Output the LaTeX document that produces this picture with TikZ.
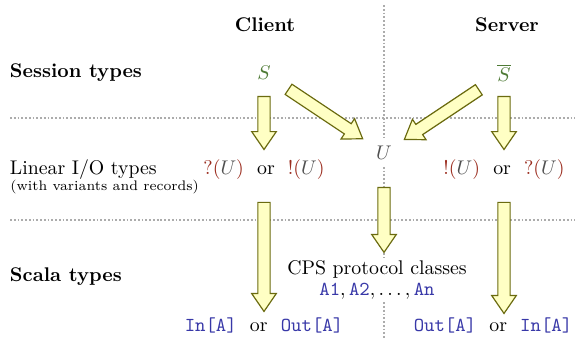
\documentclass[tikz,border=0pt]{standalone}
\usepackage{amsmath}
\usepackage{tikz}
\usetikzlibrary{shapes.arrows,calc}
\definecolor{sesscol}{HTML}{4E7A35}
\definecolor{iocol}{HTML}{9B2D1F}
\definecolor{ucol}{HTML}{505050}
\definecolor{scalacol}{HTML}{3838A8}
\definecolor{arrowfill}{HTML}{FFFFC4}
\definecolor{arrowline}{HTML}{6B6B10}
\tikzset{%
  % Specifications for style of nodes:
       fatarrow/.style = {single arrow, draw=arrowline, fill=arrowfill,
                          line width=0.6pt, inner xsep=0pt, inner ysep=2.8pt,
                          single arrow head extend=3.1pt,
                          single arrow tip angle=69, outer sep=0pt},
        rowhead/.style = {anchor=west, font=\bfseries},
         sepline/.style = {gray!65, densely dotted, line width=0.9pt}
                          }
\newcommand{\sess}[1]{\textcolor{sesscol}{#1}}
\newcommand{\io}[1]{\textcolor{iocol}{#1}}
\newcommand{\uu}{\textcolor{ucol}{U}}
\newcommand{\scl}[1]{\textcolor{scalacol}{\texttt{#1}}}
% fat arrow between two nodes, shortened at both ends
\newcommand{\bigarrow}[4]{%
  \path let \p1 = ($(#1)!#3!(#2)$), \p2 = ($(#2)!#4!(#1)$),
            \p3 = ($(\p2)-(\p1)$), \n1 = {atan2(\y3,\x3)}, \n2 = {veclen(\x3,\y3)}
        in node[fatarrow, minimum height=\n2, rotate=\n1] at ($(\p1)!0.5!(\p2)$) {};}

\begin{document}
\begin{tikzpicture}[x=0.505pt, y=-0.505pt]
    \useasboundingbox (0,0) rectangle (575,338);

    % separators
    \draw[sepline] (10,118) -- (575,118);
    \draw[sepline] (10,220) -- (575,220);
    \draw[sepline] (384,5)  -- (384,338);

    % columns
    \node (client) [font=\bfseries] at (265,25) {Client};
    \node (server) [font=\bfseries] at (507,25) {Server};

    % rows
    \node (sess)      [rowhead] at (3,73)  {Session types};
    \node (linio)     [anchor=west] at (3,170) {Linear I/O types};
    \node (linionote) [anchor=west, font=\scriptsize, inner sep=1pt] at (8,187) {(with variants and records)};
    \node (scala)     [rowhead] at (3,277) {Scala types};

    \node (S)    at (264,73) {$\sess{S}$};
    \node (Sbar) at (504,73) {$\sess{\overline{S}}$};

    \node (cio) at (264,170) {$\io{?(}\uu\io{)}$\ \ or\ \ $\io{!(}\uu\io{)}$};
    \node (sio) at (504,170) {$\io{!(}\uu\io{)}$\ \ or\ \ $\io{?(}\uu\io{)}$};
    \node (U) [fill=white] at (384,153) {$\uu$};

    \node (cps) [fill=white, align=center, inner sep=1pt] at (377,280)
          {CPS protocol classes\\[-1pt] $\scl{A1}, \scl{A2}, \ldots, \scl{An}$};
    \coordinate (cpstop) at (U |- cps.north);
    \node (cscala) [fill=white, inner sep=1pt] at (264,325) {\scl{In[A]}\ \ or\ \ \scl{Out[A]}};
    \node (sscala) [fill=white, inner sep=1pt] at (493,325) {\scl{Out[A]}\ \ or\ \ \scl{In[A]}};
    \coordinate (sscalatop) at (sio |- sscala.north);

    \bigarrow{S}{cio}{9.6pt}{12.6pt}
    \bigarrow{Sbar}{sio}{9.6pt}{12.6pt}
    \bigarrow{S}{U}{12.6pt}{15.2pt}
    \bigarrow{Sbar}{U}{13pt}{14.6pt}
    \bigarrow{U}{cpstop}{15.2pt}{5pt}
    \bigarrow{cio}{cscala}{14.1pt}{9.1pt}
    \bigarrow{sio}{sscalatop}{14.1pt}{3pt}
\end{tikzpicture}
\end{document}
